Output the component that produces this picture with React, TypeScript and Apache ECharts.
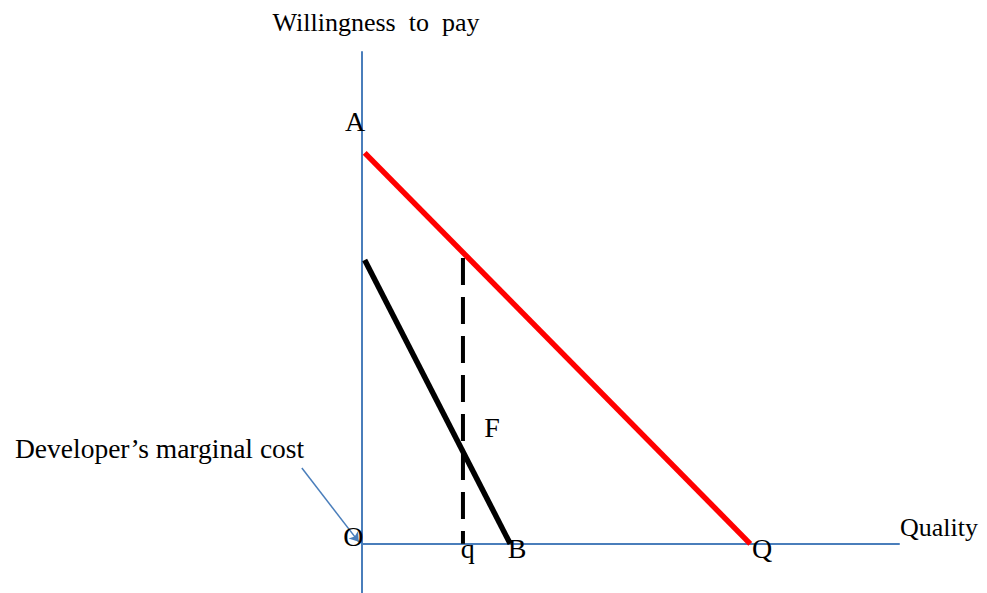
import React, { useEffect, useRef } from "react";
import * as echarts from "echarts";

// Willingness-to-pay curve (red): from A to Q
const redLine: [number, number][] = [
  [0.5, 79.5],
  [72.3, 0],
];
// Developer's marginal cost (black): to B
const blackLine: [number, number][] = [
  [0.5, 57.7],
  [27.6, 0],
];
// Dashed vertical at q
const dashedLine: [number, number][] = [
  [18.8, 58.1],
  [18.8, 0],
];
// Annotation arrow pointing to O
const arrowLine: [number, number][] = [
  [-11.2, 15.4],
  [-0.6, 0.4],
];
// Point letters
const pointLabels: [string, number, number][] = [
  ["A", -1.3, 85.8],
  ["O", -1.6, 1.4],
  ["q", 19.7, -0.9],
  ["B", 28.9, -0.9],
  ["Q", 74.5, -1.0],
  ["F", 24.2, 23.7],
];
const yAxisTitle = "Willingness  to  pay";
const xAxisTitle = "Quality";
const noteText = "Developer\u2019s marginal cost";

const FONT = "'Liberation Serif', 'Times New Roman', serif";
const AXIS_COLOR = "#4a7ebb";

export default function App() {
  const ref = useRef<HTMLDivElement>(null);
  useEffect(() => {
    if (!ref.current) return;
    const chart = echarts.init(ref.current, undefined, { renderer: "svg" });
    chart.setOption({
      animation: false,
      backgroundColor: "#ffffff",
      grid: { left: 362, right: 88, top: 52, bottom: 0 },
      xAxis: {
        type: "value",
        min: 0,
        max: 100,
        axisLine: { show: true, onZero: true, lineStyle: { color: AXIS_COLOR, width: 2 } },
        axisTick: { show: false },
        axisLabel: { show: false },
        splitLine: { show: false },
        name: xAxisTitle,
        nameLocation: "end",
        nameGap: 1,
        nameTextStyle: {
          fontFamily: FONT,
          fontSize: 26,
          color: "#000",
          align: "left",
          verticalAlign: "bottom",
          padding: [0, 0, 3, 0],
        },
      },
      yAxis: {
        type: "value",
        min: -10,
        max: 100,
        axisLine: { show: true, lineStyle: { color: AXIS_COLOR, width: 2 } },
        axisTick: { show: false },
        axisLabel: { show: false },
        splitLine: { show: false },
        name: yAxisTitle,
        nameLocation: "end",
        nameGap: 17,
        nameTextStyle: {
          fontFamily: FONT,
          fontSize: 26,
          color: "#000",
          align: "center",
          padding: [0, 0, 0, 28],
        },
      },
      graphic: [
        {
          type: "text",
          left: 15,
          top: 434,
          style: { text: noteText, font: `27.5px ${FONT}`, fill: "#000" },
        },
      ],
      series: [
        {
          type: "line",
          data: redLine,
          symbol: "none",
          lineStyle: { color: "#ff0000", width: 5.5 },
          z: 3,
        },
        {
          type: "line",
          data: blackLine,
          symbol: "none",
          lineStyle: { color: "#000000", width: 5.5 },
          z: 3,
        },
        {
          type: "line",
          data: dashedLine,
          symbol: "none",
          lineStyle: { color: "#000000", width: 4, type: [27, 12] },
          z: 3,
        },
        {
          type: "lines",
          coordinateSystem: "cartesian2d",
          clip: false,
          symbol: ["none", "arrow"],
          symbolSize: 9,
          lineStyle: { color: AXIS_COLOR, width: 1.5, opacity: 1 },
          data: [{ coords: arrowLine }],
          z: 4,
        },
        {
          type: "scatter",
          clip: false,
          symbolSize: 1,
          itemStyle: { color: "transparent", opacity: 1 },
          data: pointLabels.map(([n, x, y]) => ({ name: n, value: [x, y] })),
          label: {
            show: true,
            position: "inside",
            formatter: (p: any) => p.name,
            fontFamily: FONT,
            fontSize: 28,
            color: "#000000",
            opacity: 1,
            textBorderWidth: 0,
          },
          emphasis: { disabled: true },
          z: 5,
        },
      ],
    });
    return () => chart.dispose();
  }, []);
  return (
    <div
      ref={ref}
      style={{ position: "fixed", left: 0, top: 0, width: 987, height: 593, background: "#fff" }}
    />
  );
}
